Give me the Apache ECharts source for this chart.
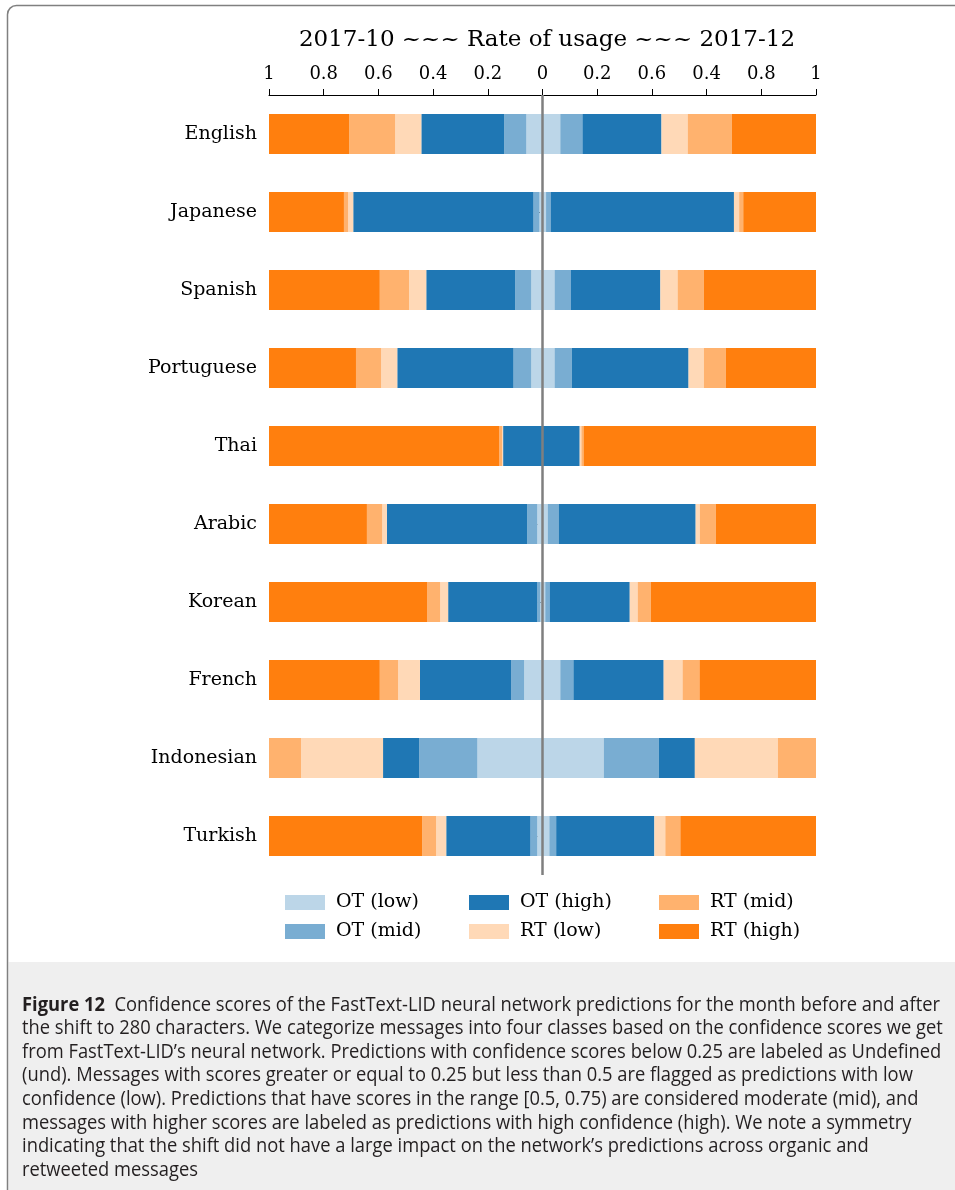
<!DOCTYPE html>
<html>
<head>
<meta charset="utf-8">
<script src="https://cdn.jsdelivr.net/npm/echarts@6/dist/echarts.min.js"></script>
<style>
  html, body { margin: 0; padding: 0; background: #fff; }
  #chart { width: 955px; height: 1190px; }
</style>
</head>
<body>
<div id="chart"></div>
<script>
// Languages, top to bottom
const categories = ['English', 'Japanese', 'Spanish', 'Portuguese', 'Thai', 'Arabic', 'Korean', 'French', 'Indonesian', 'Turkish'];

// Confidence classes, from the centre line outwards
const classNames = ['OT (low)', 'OT (mid)', 'OT (high)', 'RT (low)', 'RT (mid)', 'RT (high)'];

// 2017-10 (left half)
const otLowBefore  = [0.059, 0.011, 0.041, 0.041, 0.000, 0.019, 0.008, 0.067, 0.238, 0.019];
const otMidBefore  = [0.081, 0.022, 0.059, 0.065, 0.000, 0.037, 0.012, 0.048, 0.213, 0.025];
const otHighBefore = [0.303, 0.659, 0.325, 0.425, 0.144, 0.513, 0.325, 0.333, 0.132, 0.308];
const rtLowBefore  = [0.096, 0.019, 0.063, 0.059, 0.004, 0.017, 0.029, 0.080, 0.300, 0.037];
const rtMidBefore  = [0.168, 0.015, 0.107, 0.092, 0.010, 0.056, 0.048, 0.067, 0.117, 0.051];
const rtHighBefore = [0.293, 0.274, 0.406, 0.318, 0.842, 0.358, 0.578, 0.406, 0.000, 0.561];

// 2017-12 (right half)
const otLowAfter  = [0.065, 0.013, 0.044, 0.044, 0.000, 0.019, 0.010, 0.065, 0.224, 0.025];
const otMidAfter  = [0.081, 0.018, 0.059, 0.063, 0.000, 0.040, 0.016, 0.048, 0.201, 0.025];
const otHighAfter = [0.289, 0.669, 0.328, 0.427, 0.136, 0.501, 0.293, 0.330, 0.132, 0.359];
const rtLowAfter  = [0.096, 0.019, 0.063, 0.056, 0.006, 0.015, 0.029, 0.069, 0.304, 0.040];
const rtMidAfter  = [0.161, 0.015, 0.096, 0.080, 0.008, 0.059, 0.048, 0.062, 0.140, 0.055];
const rtHighAfter = [0.308, 0.266, 0.410, 0.330, 0.850, 0.366, 0.604, 0.426, 0.000, 0.496];

// Top axis tick labels, from -1 to 1 in steps of 0.2
const tickLabels = ['1', '0.8', '0.6', '0.4', '0.2', '0', '0.2', '0.6', '0.4', '0.8', '1'];

const titleText = '2017-10 ~~~ Rate of usage ~~~ 2017-12';

const captionLines = [
  'the shift to 280 characters. We categorize messages into four classes based on the confidence scores we get',
  'from FastText-LID\u2019s neural network. Predictions with confidence scores below 0.25 are labeled as Undefined',
  '(und). Messages with scores greater or equal to 0.25 but less than 0.5 are flagged as predictions with low',
  'confidence (low). Predictions that have scores in the range [0.5, 0.75) are considered moderate (mid), and',
  'messages with higher scores are labeled as predictions with high confidence (high). We note a symmetry',
  'indicating that the shift did not have a large impact on the network\u2019s predictions across organic and',
  'retweeted messages'
];
const captionHead = 'Figure 12';
const captionFirst = '  Confidence scores of the FastText-LID neural network predictions for the month before and after';

const colors = ['#bcd6e8', '#79add2', '#1f77b4', '#ffd9b7', '#ffb26e', '#ff7f0e'];
const beforeSets = [otLowBefore, otMidBefore, otHighBefore, rtLowBefore, rtMidBefore, rtHighBefore];
const afterSets  = [otLowAfter, otMidAfter, otHighAfter, rtLowAfter, rtMidAfter, rtHighAfter];

const SERIF = 'DejaVu Serif';

const series = [];
classNames.forEach((name, k) => {
  // earlier month drawn to the left as negative values
  series.push({
    name: name,
    type: 'bar',
    stack: 'usage',
    barWidth: 40,
    itemStyle: { color: colors[k] },
    data: beforeSets[k].map(v => -v)
  });
  series.push({
    name: name,
    type: 'bar',
    stack: 'usage',
    barWidth: 40,
    itemStyle: { color: colors[k] },
    data: afterSets[k]
  });
});
// centre divider
series[series.length - 1].z = 5;
series[series.length - 1].markLine = {
  silent: true,
  symbol: ['none', 'none'],
  label: { show: false },
  lineStyle: { color: '#7f7f7f', width: 2.5, type: 'solid' },
  data: [{ xAxis: 0 }]
};

// Caption text, condensed horizontally to the column width
const CAP_FONT = 'Open Sans';
const CAP_SIZE = 19.5;
const measure = document.createElement('canvas').getContext('2d');
measure.font = 'bold ' + CAP_SIZE + 'px "' + CAP_FONT + '"';
const headW = measure.measureText(captionHead).width;
measure.font = CAP_SIZE + 'px "' + CAP_FONT + '"';
const firstW = measure.measureText(captionFirst).width;
const capScale = 918 / (headW + firstW);

const captionX = 22;
const captionY0 = 1005;
const captionStep = 23.6;

const graphic = [
  {
    type: 'rect',
    shape: { x: 8.5, y: 962, width: 960, height: 240 },
    style: { fill: '#efefef' },
    z: -10
  },
  {
    type: 'rect',
    shape: { x: 7.5, y: 5.5, width: 1000, height: 1300, r: 9 },
    style: { fill: 'none', stroke: '#808080', lineWidth: 1.5 },
    z: -5
  },
  {
    type: 'text',
    x: captionX,
    y: captionY0,
    scaleX: capScale,
    style: {
      text: '{b|' + captionHead + '}' + captionFirst,
      fontFamily: CAP_FONT,
      fontSize: CAP_SIZE,
      fill: '#231f20',
      verticalAlign: 'middle',
      rich: { b: { fontWeight: 'bold', fontFamily: CAP_FONT, fontSize: CAP_SIZE, fill: '#231f20' } }
    }
  }
];
captionLines.forEach((line, i) => {
  graphic.push({
    type: 'text',
    x: captionX,
    y: captionY0 + captionStep * (i + 1),
    scaleX: capScale,
    style: {
      text: line,
      fontFamily: CAP_FONT,
      fontSize: CAP_SIZE,
      fill: '#231f20',
      verticalAlign: 'middle'
    }
  });
});

const legendBase = {
  orient: 'vertical',
  top: 887,
  itemWidth: 40,
  itemHeight: 15,
  itemGap: 8,
  icon: 'rect',
  selectedMode: false,
  textStyle: { fontFamily: SERIF, fontSize: 19, color: '#000', padding: [0, 0, 0, 6], lineHeight: 21 }
};

const option = {
  animation: false,
  backgroundColor: '#fff',
  title: {
    text: titleText,
    left: 542,
    textAlign: 'center',
    top: 24,
    textStyle: { fontFamily: SERIF, fontSize: 23, fontWeight: 'normal', color: '#000' }
  },
  legend: [
    Object.assign({}, legendBase, { left: 280, data: [classNames[0], classNames[1]] }),
    Object.assign({}, legendBase, { left: 464, data: [classNames[2], classNames[3]] }),
    Object.assign({}, legendBase, { left: 654, data: [classNames[4], classNames[5]] })
  ],
  grid: { left: 269, right: 139, top: 95, height: 780, containLabel: false },
  xAxis: {
    type: 'value',
    position: 'top',
    min: -1,
    max: 1,
    interval: 0.2,
    axisLine: { show: true, lineStyle: { color: '#000', width: 1 } },
    axisTick: { show: true, length: 6, lineStyle: { color: '#000', width: 1 } },
    axisLabel: {
      fontFamily: SERIF,
      fontSize: 18,
      color: '#000',
      margin: 12,
      formatter: v => tickLabels[Math.round((v + 1) / 0.2)]
    },
    splitLine: { show: false }
  },
  yAxis: {
    type: 'category',
    data: categories,
    inverse: true,
    axisLine: { show: false },
    axisTick: { show: true, alignWithLabel: true, length: 5, lineStyle: { color: '#000', width: 1 } },
    axisLabel: { fontFamily: SERIF, fontSize: 19, color: '#000', margin: 12 },
    splitLine: { show: false }
  },
  graphic: graphic,
  series: series
};

const chart = echarts.init(document.getElementById('chart'), null, { renderer: 'canvas' });
chart.setOption(option);
</script>
</body>
</html>
